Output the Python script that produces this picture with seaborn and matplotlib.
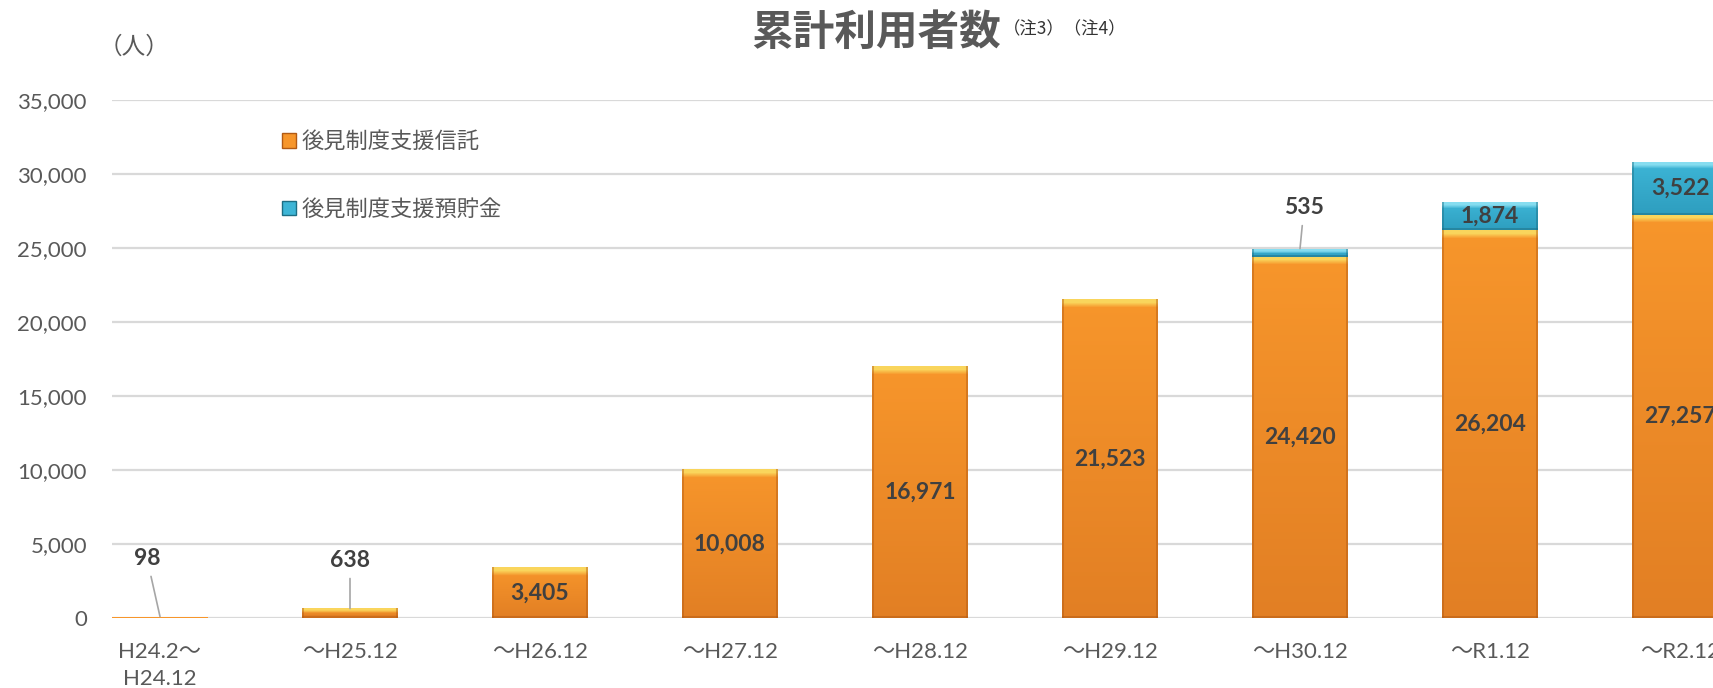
import numpy as np
import matplotlib
matplotlib.use("Agg")
import matplotlib.pyplot as plt
from matplotlib.patches import Patch
from matplotlib.colors import to_rgb
import seaborn as sns

# ---- data ----
periods = ["H24.2～\nH24.12", "～H25.12", "～H26.12", "～H27.12", "～H28.12",
           "～H29.12", "～H30.12", "～R1.12", "～R2.12"]
trust = [98, 638, 3405, 10008, 16971, 21523, 24420, 26204, 27257]
deposit = [0, 0, 0, 0, 0, 0, 535, 1874, 3522]
series_names = ["後見制度支援信託", "後見制度支援預貯金"]
y_ticks = [0, 5000, 10000, 15000, 20000, 25000, 30000, 35000]

ORANGE = "#F7962B"
BLUE = "#3DB5D6"
GRID = "#D9D9D9"
TICK = "#595959"
LABEL = "#404040"

sns.set_theme(style="white")
plt.rcParams["font.family"] = ["Lato", "Noto Sans CJK JP", "DejaVu Sans"]
CJK = ["Noto Sans CJK JP", "DejaVu Sans"]

W, H = 1713, 688
fig = plt.figure(figsize=(W / 100, H / 100), dpi=100)
ax = fig.add_axes([112 / W, 70 / H, (W - 112) / W, 518 / H])

n0 = len(ax.patches)
sns.barplot(x=periods, y=trust, color=ORANGE, saturation=1, width=0.505,
            linewidth=0, ax=ax, zorder=2)
n1 = len(ax.patches)
sns.barplot(x=periods, y=deposit, bottom=trust, color=BLUE, saturation=1,
            width=0.505, linewidth=0, ax=ax, zorder=2)
n2 = len(ax.patches)
orange_bars = ax.patches[n0:n1]
blue_bars = ax.patches[n1:n2]

ax.set_ylim(0, 35000)
ax.set_xlim(-48 / 190, (W - 160) / 190)
ax.set_yticks(y_ticks)
ax.set_yticklabels([f"{v:,}" for v in y_ticks])
ax.set_xlabel("")
ax.set_ylabel("")
for s in ax.spines.values():
    s.set_visible(False)
ax.grid(axis="y", color=GRID, linewidth=1.6, zorder=0)
ax.grid(axis="x", visible=False)
ax.set_axisbelow(True)
ax.tick_params(axis="y", length=0, pad=18, labelsize=16, labelcolor=TICK)
ax.tick_params(axis="x", length=0, pad=17, labelsize=16, labelcolor=TICK)
for t in ax.get_xticklabels():
    t.set_linespacing(1.45)


def shade_bar(patch, top_hi, bottom_lo, edge_lo, bevel_px=8):
    """Paint a bevelled vertical gradient over a bar patch."""
    x0, y0 = patch.get_x(), patch.get_y()
    w, h = patch.get_width(), patch.get_height()
    if h <= 0:
        return
    (px0, py0), (px1, py1) = ax.transData.transform([(x0, y0), (x0 + w, y0 + h)])
    nx = max(int(round(px1 - px0)), 2)
    ny = int(round(py1 - py0))
    if ny < 2:
        return
    base = np.array(to_rgb(patch.get_facecolor()))
    lo = np.array(to_rgb(bottom_lo))
    hi = np.array(to_rgb(top_hi))
    dk = np.array(to_rgb(edge_lo))
    t = np.linspace(0, 1, ny)[:, None]
    col = base * (1 - t) + lo * t
    b = min(bevel_px, max(ny // 2, 1))
    for r in range(b):
        a = min(1.0, 1.6 * (1 - r / b))
        col[r] = hi * a + col[r] * (1 - a)
    img = np.repeat(col[:, None, :], nx, axis=1)
    e = 2
    img[:, :e] = img[:, :e] * 0.55 + dk * 0.45
    img[:, -e:] = img[:, -e:] * 0.55 + dk * 0.45
    img[-e:, :] = img[-e:, :] * 0.5 + dk * 0.5
    ax.imshow(img, extent=(x0, x0 + w, y0, y0 + h), origin="upper",
              aspect="auto", interpolation="bilinear", zorder=2.5)


for p in orange_bars:
    shade_bar(p, "#FAD55C", "#E27F24", "#B25A14")
for p in blue_bars:
    shade_bar(p, "#86DDF0", "#2E9EBF", "#1C6E84", bevel_px=6)

ax.set_ylim(0, 35000)
ax.set_xlim(-48 / 190, (W - 160) / 190)

# ---- value labels ----
lab_kw = dict(color=LABEL, fontsize=16.5, fontweight="bold", ha="center",
              va="center", zorder=5)
for i, v in enumerate(trust):
    if v >= 3000:
        ax.text(i, v / 2, f"{v:,}", **lab_kw)
for i, (b, v) in enumerate(zip(trust, deposit)):
    if v >= 1000:
        ax.text(i, b + v / 2, f"{v:,}", **lab_kw)

leader = dict(arrowstyle="-", color="#A6A6A6", lw=1.2, shrinkA=3, shrinkB=0)
ax.annotate(f"{trust[0]:,}", xy=(0, trust[0]), xytext=(-13, 58),
            textcoords="offset pixels", arrowprops=leader, **lab_kw)
ax.annotate(f"{trust[1]:,}", xy=(1, trust[1]), xytext=(0, 48),
            textcoords="offset pixels", arrowprops=leader, **lab_kw)
ax.annotate(f"{deposit[6]:,}", xy=(6, trust[6] + deposit[6]), xytext=(4, 41),
            textcoords="offset pixels", arrowprops=leader, **lab_kw)

# ---- legend ----
handles = [Patch(facecolor=ORANGE, edgecolor="#B25A14", linewidth=1),
           Patch(facecolor=BLUE, edgecolor="#1C6E84", linewidth=1)]
leg = ax.legend(handles, series_names, loc="center left",
                bbox_to_anchor=(282 / W, 1 - 175.5 / H),
                bbox_transform=fig.transFigure, frameon=False,
                prop={"family": CJK, "size": 16}, labelcolor=TICK,
                handlelength=0.65, handleheight=0.65, handletextpad=0.25,
                labelspacing=2.0, borderpad=0, borderaxespad=0)

# ---- titles ----
fig.text(876 / W, 1 - 33 / H, "累計利用者数", fontsize=30, fontweight="bold",
         color=TICK, ha="center", va="center", family=CJK)
fig.text(1003 / W, 1 - 29 / H, "（注3）（注4）", fontsize=12.5, color="#333333",
         ha="left", va="center", family=CJK)
fig.text(134 / W, 1 - 47 / H, "（人）", fontsize=17, color=TICK,
         ha="center", va="center", family=CJK)

fig.savefig("out.png", dpi=100, facecolor="white")
